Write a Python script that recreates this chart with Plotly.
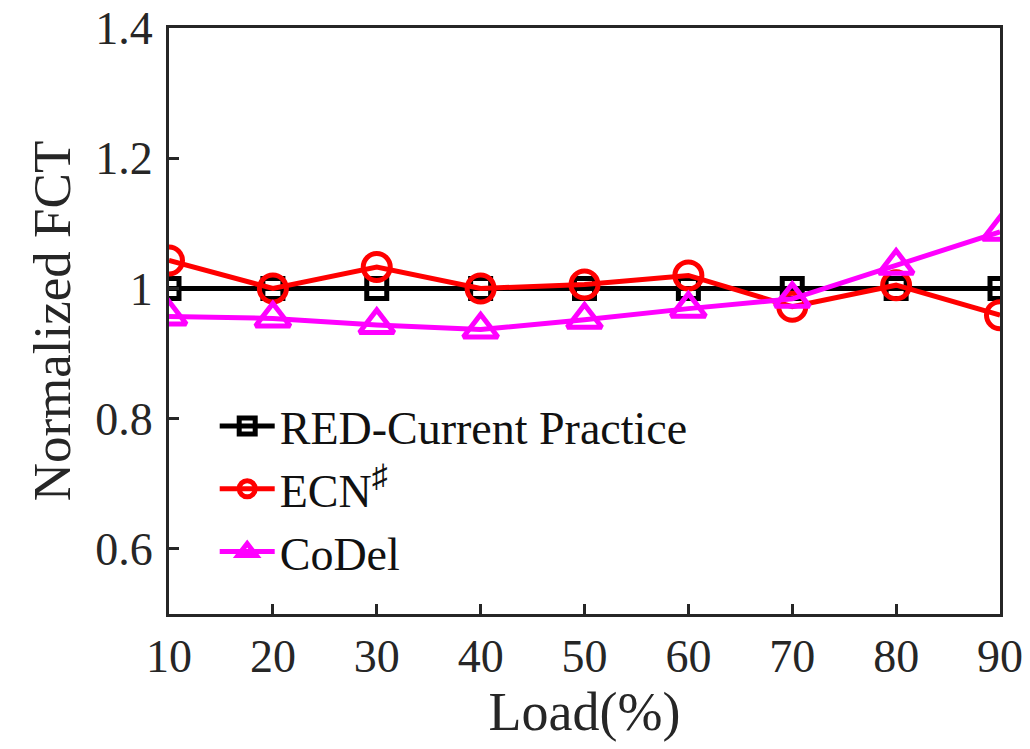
import plotly.graph_objects as go

loads = [10, 20, 30, 40, 50, 60, 70, 80, 90]
red_fct = [1.0, 1.0, 1.0, 1.0, 1.0, 1.0, 1.0, 1.0, 1.0]
ecn_fct = [1.043, 1.0, 1.033, 1.0, 1.006, 1.020, 0.972, 1.005, 0.959]
codel_fct = [0.957, 0.954, 0.944, 0.937, 0.952, 0.969, 0.984, 1.035, 1.087]
y_ticks = [0.6, 0.8, 1.0, 1.2, 1.4]
y_tick_text = ["0.6", "0.8", "1", "1.2", "1.4"]

FONT = "Liberation Serif"
AX = "#262626"

fig = go.Figure()
fig.add_trace(go.Scatter(
    x=loads, y=red_fct, name="RED-Current Practice", mode="lines+markers",
    line=dict(color="black", width=5),
    marker=dict(symbol="square-open", size=20, color="black", line=dict(width=5, color="black"))))
fig.add_trace(go.Scatter(
    x=loads, y=ecn_fct, name="ECN<sup>♯</sup>", mode="lines+markers",
    line=dict(color="red", width=5),
    marker=dict(symbol="circle-open", size=27, color="red", line=dict(width=5, color="red"))))
fig.add_trace(go.Scatter(
    x=loads, y=codel_fct, name="CoDel", mode="lines+markers",
    line=dict(color="magenta", width=5),
    marker=dict(symbol="triangle-up-open", size=30, color="magenta", line=dict(width=5, color="magenta"))))

fig.update_layout(
    width=1022, height=741,
    margin=dict(l=161, r=30, t=20, b=135),
    paper_bgcolor="white", plot_bgcolor="white",
    font=dict(family=FONT, color=AX, size=40),
    showlegend=True,
    legend=dict(x=0.055, y=0.383, xanchor="left", yanchor="top",
                bgcolor="rgba(0,0,0,0)", font=dict(size=46, family=FONT, color="#111"),
                itemwidth=55, tracegroupgap=0),
    xaxis=dict(range=[10, 90], tickvals=loads, ticks="inside", ticklen=10, tickwidth=3,
               tickcolor=AX, showline=True, linewidth=3, linecolor=AX, mirror=True,
               showgrid=False, zeroline=False, tickfont=dict(size=46, family=FONT, color=AX),
               ticklabeloverflow="allow", automargin=False,
               title=dict(text="Load(%)", font=dict(size=54, family=FONT, color=AX), standoff=8)),
    yaxis=dict(range=[0.5, 1.4], tickvals=y_ticks, ticktext=y_tick_text, ticks="inside",
               ticklen=10, tickwidth=3, tickcolor=AX, showline=True, linewidth=3,
               linecolor=AX, mirror=True, showgrid=False, zeroline=False,
               tickfont=dict(size=46, family=FONT, color=AX),
               ticklabeloverflow="allow", automargin=False, ticklabelstandoff=4,
               title=dict(text="Normalized FCT", font=dict(size=53, family=FONT, color=AX), standoff=8)),
)
fig.write_html("out.html")
